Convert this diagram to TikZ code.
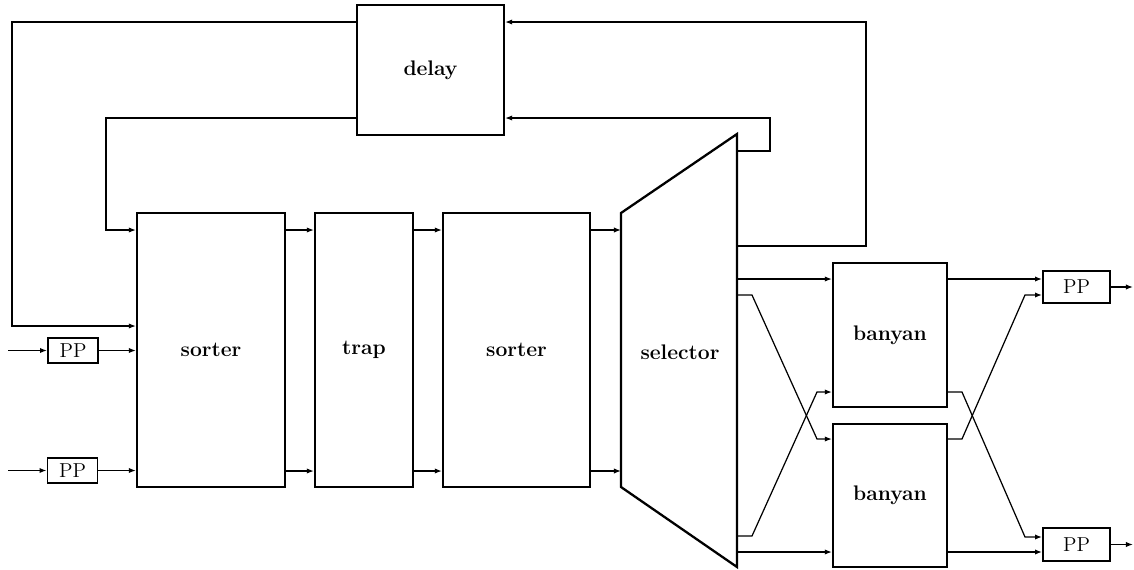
\documentclass[tikz,border=0pt]{standalone}
\usepackage{fontspec}
\usetikzlibrary{arrows.meta}

\tikzset{
  sized/.style 2 args={minimum width=#1*0.02cm, minimum height=#2*0.02cm},
  blk/.style={draw, line width=1.3pt, inner sep=0pt, font=\fontsize{12}{14}\selectfont\bfseries},
  ppbox/.style={draw, line width=1.1pt, inner sep=0pt, sized={62}{28}, font=\fontsize{11.5}{12}\selectfont},
  sig/.style={line width=0.7pt},
  arr/.style={sig, -{Latex[length=4pt,width=3pt]}},
}

\begin{document}
\begin{tikzpicture}[x=0.02cm,y=-0.02cm]
	\useasboundingbox (0,0) rectangle (1134,569);

	% switching stages
	\node[blk, sized={148}{274}] (sortA) at (211,350) {sorter};
	\node[blk, sized={98}{274}] (trap) at (364,350) {trap};
	\node[blk, sized={147}{274}] (sortB) at (516.5,350) {sorter};
	\node[blk, sized={147}{130}] (delay) at (430.5,70) {delay};
	\node[blk, sized={114}{144}] (banA) at (890,335) {banyan};
	\node[blk, sized={114}{143}] (banB) at (890,495.5) {banyan};

	% selector is a trapezoid
	\coordinate (selTL) at (621,213);
	\coordinate (selTR) at (737,134);
	\coordinate (selBR) at (737,567);
	\coordinate (selBL) at (621,487);
	\draw[line width=1.3pt] (selTL) -- (selTR) -- (selBR) -- (selBL) -- cycle;
	\node[font=\fontsize{12}{14}\selectfont\bfseries] (sel) at (680,352) {selector};

	% port processors
	\node[ppbox, sized={50}{25}] (ppA) at (73,350.5) {PP};
	\node[ppbox, sized={50}{25}] (ppB) at (72.5,470.5) {PP};
	\node[ppbox, sized={67}{32}] (ppC) at (1076.5,287) {PP};
	\node[ppbox, sized={67}{33}] (ppD) at (1076.5,544.5) {PP};

	\coordinate (inA) at (8,350.5);
	\coordinate (inB) at (8,470.5);
	\coordinate (outC) at (1133,287);
	\coordinate (outD) at (1133,544.5);

	% inputs
	\draw[arr] (inA) -- (ppA);
	\draw[arr] (inB) -- (ppB);
	\draw[arr] (ppA) -- (sortA.west |- ppA);
	\draw[arr] (ppB) -- (sortA.west |- ppB);

	% delay loops
	\draw[arr] (delay.west |- 0,22) -| (12,326) -- (sortA.west |- 0,326);
	\draw[arr] (delay.west |- 0,118) -| (106,230) -- (sortA.west |- 0,230);
	\draw[arr] (selTR |- 0,151) -| (770,118) -- (delay.east |- 0,118);
	\draw[arr] (selTR |- 0,246) -| (866,22) -- (delay.east |- 0,22);

	% pipeline
	\foreach \r in {230,471} {
		\draw[arr] (sortA.east |- 0,\r) -- (trap.west |- 0,\r);
		\draw[arr] (trap.east |- 0,\r) -- (sortB.west |- 0,\r);
		\draw[arr] (sortB.east |- 0,\r) -- (selTL |- 0,\r);
	}

	% selector to banyans
	\draw[arr] (selTR |- 0,279) -- (banA.west |- 0,279);
	\draw[arr] (selTR |- 0,295) -- (752,295) -- (817,439) -- (banB.west |- 0,439);
	\draw[arr] (selTR |- 0,536) -- (752,536) -- (817,392) -- (banA.west |- 0,392);
	\draw[arr] (selTR |- 0,552) -- (banB.west |- 0,552);

	% banyans to outputs
	\draw[arr] (banA.east |- 0,279) -- (ppC.west |- 0,279);
	\draw[arr] (banA.east |- 0,392) -- (962,392) -- (1025,537) -- (ppD.west |- 0,537);
	\draw[arr] (banB.east |- 0,439) -- (962,439) -- (1025,295) -- (ppC.west |- 0,295);
	\draw[arr] (banB.east |- 0,552) -- (ppD.west |- 0,552);
	\draw[arr] (ppC) -- (outC);
	\draw[arr] (ppD) -- (outD);
\end{tikzpicture}
\end{document}
